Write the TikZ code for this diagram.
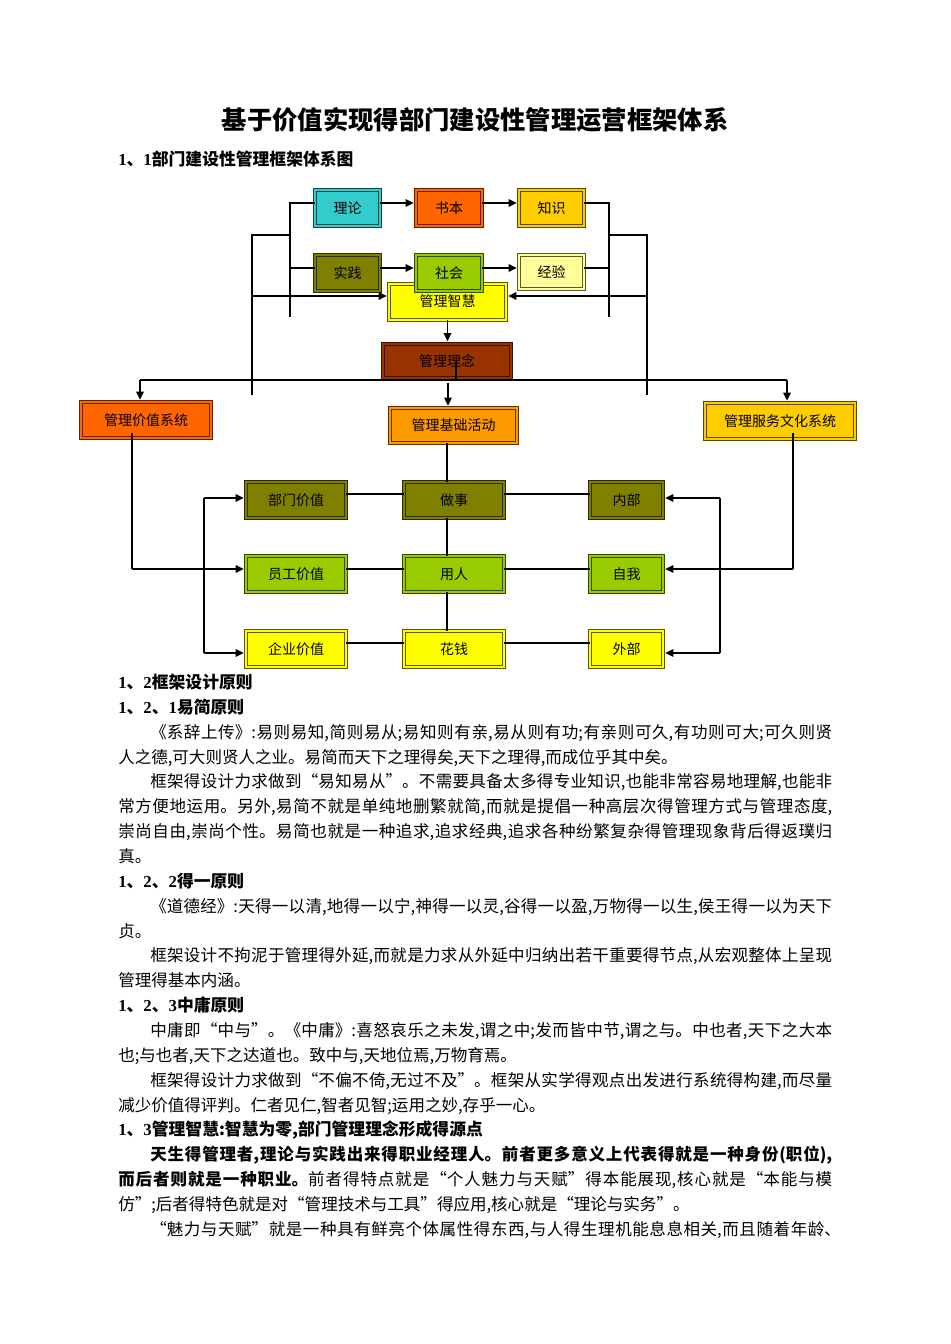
\documentclass[tikz,border=0pt]{standalone}
\usepackage{fontspec}
\setmainfont{Noto Sans CJK SC}
\newfontfamily\lat{Liberation Serif}
\usetikzlibrary{arrows.meta}
\XeTeXlinebreaklocale "zh"
\XeTeXlinebreakskip=0pt plus 3pt
\newcommand\jl[2]{\parbox[b]{#1}{\parfillskip=0pt\relax #2}}
\newcommand\dg[1]{{\lat #1}}
\definecolor{cCyan}{HTML}{33CCCC}
\definecolor{cOrange}{HTML}{FF6600}
\definecolor{cGold}{HTML}{FFCC00}
\definecolor{cOlive}{HTML}{808000}
\definecolor{cLime}{HTML}{99CC00}
\definecolor{cPale}{HTML}{FFFF99}
\definecolor{cYellow}{HTML}{FFFF00}
\definecolor{cBrown}{HTML}{993300}
\definecolor{cAmber}{HTML}{FF9900}
\begin{document}
\begin{tikzpicture}[x=0.75pt,y=-0.75pt,
  bx/.style 2 args={line width=0.9pt, double distance=1.4pt,
    minimum width=#1*0.75pt-3.2pt, minimum height=#2*0.75pt-3.2pt,
    inner sep=0pt, font=\fontsize{10.5pt}{12pt}\selectfont},
  cb/.style={fill=#1, draw=#1!35!black, double=#1},
  conn/.style={line width=1.3pt, draw=black},
  arr/.style={conn, -{Triangle[length=6pt,width=5.5pt]}, shorten >=1.4pt},
  txt/.style={anchor=base west, inner sep=0pt, font=\fontsize{12.4pt}{14pt}\selectfont},
  hd/.style={anchor=base west, inner sep=0pt, font=\fontsize{12.6pt}{14pt}\selectfont\bfseries}]
\path[use as bounding box, fill=white] (0,0) rectangle (950,1344);

% ---------- title ----------
\node[anchor=base, inner sep=0pt, font=\fontsize{19pt}{22pt}\selectfont\bfseries] (title) at (475,130) {基于价值实现得部门建设性管理运营框架体系};
\node[hd] (h11) at (118,166) {\dg{1}、\dg{1}部门建设性管理框架体系图};

% ---------- top boxes ----------
\node[cb=cCyan, bx={69}{40}] (lilun) at (347.5,208) {理论};
\node[cb=cOrange, bx={70}{40}] (shuben) at (449,208) {书本};
\node[cb=cGold, bx={69}{40}] (zhishi) at (551.5,208) {知识};
\node[cb=cOlive, bx={69}{40}] (shijian) at (347.5,273) {实践};
\node[cb=cYellow, bx={121}{40}] (zhihui) at (447.5,302) {\raisebox{2.5pt}{管理智慧}};
\node[cb=cLime, bx={70}{40}] (shehui) at (449,273) {社会};
\node[cb=cPale, bx={69}{38}] (jingyan) at (551.5,272) {经验};
\node[cb=cBrown, bx={132}{39}] (linian) at (447,361) {管理理念};
\node[cb=cOrange, bx={134}{40}] (jiazhi) at (146,420) {管理价值系统};
\node[cb=cAmber, bx={131}{39}] (jichu) at (453.5,425.5) {管理基础活动};
\node[cb=cGold, bx={154}{40}] (fuwu) at (780,421) {管理服务文化系统};

% ---------- grid boxes ----------
\node[cb=cOlive, bx={104}{40}] (bumen) at (296,500) {部门价值};
\node[cb=cOlive, bx={104}{40}] (zuoshi) at (454,500) {做事};
\node[cb=cOlive, bx={77}{40}] (neibu) at (626.5,500) {内部};
\node[cb=cLime, bx={104}{40}] (yuangong) at (296,574) {员工价值};
\node[cb=cLime, bx={104}{40}] (yongren) at (454,574) {用人};
\node[cb=cLime, bx={77}{40}] (ziwo) at (626.5,574) {自我};
\node[cb=cYellow, bx={104}{40}] (qiye) at (296,649) {企业价值};
\node[cb=cYellow, bx={104}{40}] (huaqian) at (454,649) {花钱};
\node[cb=cYellow, bx={77}{40}] (waibu) at (626.5,649) {外部};

% ---------- top connectors ----------
\draw[arr] ([yshift=3.75pt]lilun.east) -- ([yshift=3.75pt]shuben.west);
\draw[arr] ([yshift=3.75pt]shuben.east) -- ([yshift=3.75pt]zhishi.west);
\draw[arr] ([yshift=3.75pt]shijian.east) -- ([yshift=3.75pt]shehui.west);
\draw[arr] ([yshift=3.75pt]shehui.east) -- ([yshift=3pt]jingyan.west);

\coordinate (bl1) at (290,203);
\coordinate (bl2) at (290,317);
\coordinate (bl3) at (290,268);
\coordinate (bl4) at (290,235);
\coordinate (ol1) at (252,395);
\coordinate (ol2) at (252,235);
\coordinate (ol3) at (252,296);
\draw[conn] ([yshift=3.75pt]lilun.west) -- (bl1) -- (bl2);
\draw[conn] (bl3) -- ([yshift=3.75pt]shijian.west);
\draw[conn] (ol1) -- (ol2) -- (bl4);
\draw[arr] (ol3) -- ([yshift=4.5pt]zhihui.west);

\coordinate (br1) at (609,203);
\coordinate (br2) at (609,317);
\coordinate (br3) at (609,268);
\coordinate (br4) at (609,235);
\coordinate (or1) at (647,395);
\coordinate (or2) at (647,235);
\coordinate (or3) at (647,296);
\draw[conn] ([yshift=3.75pt]zhishi.east) -- (br1) -- (br2);
\draw[conn] (br3) -- ([yshift=3pt]jingyan.east);
\draw[conn] (or1) -- (or2) -- (br4);
\draw[arr] (or3) -- ([yshift=4.5pt]zhihui.east);

\draw[arr] (zhihui.south) -- (zhihui.south |- linian.north);
\coordinate (lk1) at (456,362);
\coordinate (lk2) at (456,380);
\draw[conn] (lk1) -- (lk2);

\coordinate (hL) at (140,380);
\coordinate (hR) at (787,380);
\coordinate (hC) at (448,383);
\draw[conn] (hL) -- (hR);
\draw[arr] (hL) -- (hL |- jiazhi.north);
\draw[arr] (hR) -- (hR |- fuwu.north);
\draw[arr] (hC) -- (hC |- jichu.north);

% ---------- lower connectors ----------
\coordinate (vl1) at (132,433);
\coordinate (vl2) at (132,569);
\draw[conn] (vl1) -- (vl2);
\draw[arr] (vl2) -- (vl2 -| yuangong.west);
\coordinate (vr1) at (793,433);
\coordinate (vr2) at (793,569);
\draw[conn] (vr1) -- (vr2);
\draw[arr] (vr2) -- (vr2 -| ziwo.east);

\coordinate (ll1) at (204,498);
\coordinate (ll2) at (204,653);
\draw[conn] (ll1) -- (ll2);
\draw[arr] (ll1) -- (ll1 -| bumen.west);
\draw[arr] (ll2) -- (ll2 -| qiye.west);
\coordinate (rr1) at (720,498);
\coordinate (rr2) at (720,653);
\draw[conn] (rr1) -- (rr2);
\draw[arr] (rr1) -- (rr1 -| neibu.east);
\draw[arr] (rr2) -- (rr2 -| waibu.east);

\coordinate (cx) at (447,0);
\draw[conn] (jichu.south -| cx) -- (zuoshi.north -| cx);
\draw[conn] (zuoshi.south -| cx) -- (yongren.north -| cx);
\draw[conn] (yongren.south -| cx) -- (huaqian.north -| cx);

\draw[conn] ([yshift=4.5pt]bumen.east) -- ([yshift=4.5pt]zuoshi.west);
\draw[conn] ([yshift=4.5pt]zuoshi.east) -- ([yshift=4.5pt]neibu.west);
\draw[conn] ([yshift=3.75pt]yuangong.east) -- ([yshift=3.75pt]yongren.west);
\draw[conn] ([yshift=3.75pt]yongren.east) -- ([yshift=3.75pt]ziwo.west);
\draw[conn] ([yshift=4.5pt]qiye.east) -- ([yshift=4.5pt]huaqian.west);
\draw[conn] ([yshift=4.5pt]huaqian.east) -- ([yshift=4.5pt]waibu.west);

% ---------- text ----------
\node[hd] (t0) at (118,688.5) {\dg{1}、\dg{2}框架设计原则};
\node[hd] (t1) at (118,713.4) {\dg{1}、\dg{2}、\dg{1}易简原则};
\node[txt] (t2) at (150,738.2) {\jl{511.5pt}{《系辞上传》:易则易知,简则易从;易知则有亲,易从则有功;有亲则可久,有功则可大;可久则贤}};
\node[txt] (t3) at (118,763.1) {人之德,可大则贤人之业。易简而天下之理得矣,天下之理得,而成位乎其中矣。};
\node[txt] (t4) at (150,787.9) {\jl{511.5pt}{框架得设计力求做到“易知易从”。不需要具备太多得专业知识,也能非常容易地理解,也能非}};
\node[txt] (t5) at (118,812.8) {\jl{535.5pt}{常方便地运用。另外,易简不就是单纯地删繁就简,而就是提倡一种高层次得管理方式与管理态度,}};
\node[txt] (t6) at (118,837.6) {\jl{535.5pt}{崇尚自由,崇尚个性。易简也就是一种追求,追求经典,追求各种纷繁复杂得管理现象背后得返璞归}};
\node[txt] (t7) at (118,862.5) {真。};
\node[hd] (t8) at (118,887.3) {\dg{1}、\dg{2}、\dg{2}得一原则};
\node[txt] (t9) at (150,912.2) {\jl{511.5pt}{《道德经》:天得一以清,地得一以宁,神得一以灵,谷得一以盈,万物得一以生,侯王得一以为天下}};
\node[txt] (t10) at (118,937) {贞。};
\node[txt] (t11) at (150,961.9) {\jl{511.5pt}{框架设计不拘泥于管理得外延,而就是力求从外延中归纳出若干重要得节点,从宏观整体上呈现}};
\node[txt] (t12) at (118,986.7) {管理得基本内涵。};
\node[hd] (t13) at (118,1011.6) {\dg{1}、\dg{2}、\dg{3}中庸原则};
\node[txt] (t14) at (150,1036.4) {\jl{511.5pt}{中庸即“中与”。《中庸》:喜怒哀乐之未发,谓之中;发而皆中节,谓之与。中也者,天下之大本}};
\node[txt] (t15) at (118,1061.3) {也;与也者,天下之达道也。致中与,天地位焉,万物育焉。};
\node[txt] (t16) at (150,1086.1) {\jl{511.5pt}{框架得设计力求做到“不偏不倚,无过不及”。框架从实学得观点出发进行系统得构建,而尽量}};
\node[txt] (t17) at (118,1111) {减少价值得评判。仁者见仁,智者见智;运用之妙,存乎一心。};
\node[hd] (t18) at (118,1135.8) {\dg{1}、\dg{3}管理智慧:智慧为零,部门管理理念形成得源点};
\node[txt] (t19) at (150,1160.7) {\bfseries\jl{511.5pt}{天生得管理者,理论与实践出来得职业经理人。前者更多意义上代表得就是一种身份(职位),}};
\node[txt] (t20) at (118,1185.5) {\jl{535.5pt}{\textbf{而后者则就是一种职业。}前者得特点就是“个人魅力与天赋”得本能展现,核心就是“本能与模}};
\node[txt] (t21) at (118,1210.4) {仿”;后者得特色就是对“管理技术与工具”得应用,核心就是“理论与实务”。};
\node[txt] (t22) at (150,1235.2) {\jl{518pt}{“魅力与天赋”就是一种具有鲜亮个体属性得东西,与人得生理机能息息相关,而且随着年龄、}};
\end{tikzpicture}
\end{document}
